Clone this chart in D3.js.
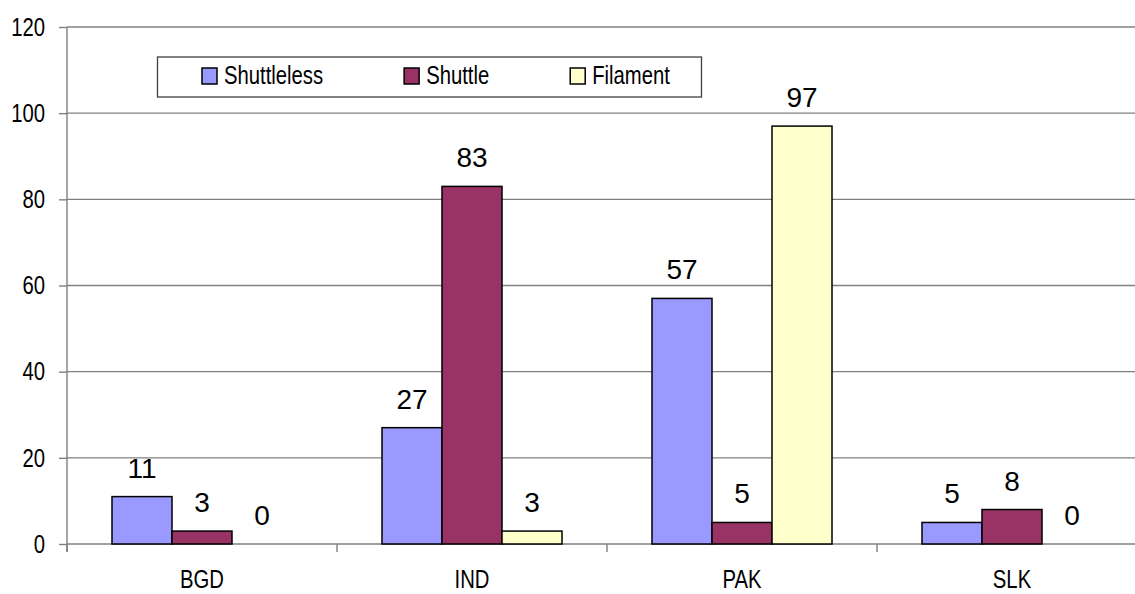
<!DOCTYPE html>
<html>
<head>
<meta charset="utf-8">
<script src="https://cdn.jsdelivr.net/npm/d3@7"></script>
<style>
  body { margin: 0; background: #ffffff; }
  svg { display: block; font-family: Arial, "Liberation Sans", sans-serif; }
</style>
</head>
<body>
<script>
// chart data
const categories = ["BGD", "IND", "PAK", "SLK"];
const seriesNames = ["Shuttleless", "Shuttle", "Filament"];
const shuttleless = [11, 27, 57, 5];
const shuttle = [3, 83, 5, 8];
const filament = [0, 3, 97, 0];
const yTicks = [0, 20, 40, 60, 80, 100, 120];

const colors = { Shuttleless: "#9999ff", Shuttle: "#993366", Filament: "#ffffcc" };
const squeeze = 0.78; // the original text is narrow

// build rows for the join
const rows = [];
categories.forEach((c, i) => {
  rows.push({ cat: c, series: "Shuttleless", value: shuttleless[i] });
  rows.push({ cat: c, series: "Shuttle", value: shuttle[i] });
  rows.push({ cat: c, series: "Filament", value: filament[i] });
});

const W = 1135, H = 594;
const svg = d3.select("body").append("svg")
  .attr("width", W)
  .attr("height", H);

const plotLeft = 67, plotRight = 1147, plotTop = 27, plotBottom = 544;

const x0 = d3.scaleBand()
  .domain(categories)
  .range([plotLeft, plotRight]);

const x1 = d3.scaleBand()
  .domain(seriesNames)
  .range([0, x0.bandwidth()])
  .paddingOuter(0.75);

const y = d3.scaleLinear()
  .domain([0, 120])
  .range([plotBottom, plotTop]);

// gridlines
svg.append("g")
  .selectAll("line")
  .data(yTicks)
  .join("line")
  .attr("x1", plotLeft)
  .attr("x2", plotRight)
  .attr("y1", d => y(d))
  .attr("y2", d => y(d))
  .attr("stroke", "#808080")
  .attr("stroke-width", 1.4);

// y axis
const yAxis = svg.append("g")
  .attr("transform", `translate(${plotLeft},0)`)
  .call(d3.axisLeft(y).tickValues(yTicks).tickSize(8).tickSizeOuter(0));
yAxis.select(".domain").attr("stroke", "#808080").attr("stroke-width", 1.4)
  .attr("d", `M0,${plotTop}V${plotBottom + 8}`);
yAxis.selectAll(".tick line").attr("stroke", "#808080").attr("stroke-width", 1.4);
yAxis.selectAll(".tick text")
  .attr("x", -22 / squeeze)
  .attr("transform", `scale(${squeeze},1)`)
  .attr("font-size", 26)
  .attr("font-family", "Arial, 'Liberation Sans', sans-serif")
  .attr("fill", "#000");

// x axis tick marks at band edges
svg.append("g")
  .selectAll("line")
  .data(categories)
  .join("line")
  .attr("x1", d => x0(d))
  .attr("x2", d => x0(d))
  .attr("y1", plotBottom)
  .attr("y2", plotBottom + 8)
  .attr("stroke", "#808080")
  .attr("stroke-width", 1.4);

// category labels
svg.append("g")
  .selectAll("text")
  .data(categories)
  .join("text")
  .attr("transform", d => `translate(${x0(d) + x0.bandwidth() / 2},588) scale(${squeeze},1)`)
  .attr("text-anchor", "middle")
  .attr("font-size", 26)
  .text(d => d);

// bars
svg.append("g")
  .selectAll("rect")
  .data(rows)
  .join("rect")
  .attr("x", d => x0(d.cat) + x1(d.series))
  .attr("y", d => y(d.value))
  .attr("width", x1.bandwidth())
  .attr("height", d => y(0) - y(d.value))
  .attr("fill", d => colors[d.series])
  .attr("stroke", d => d.value > 0 ? "#000" : "none")
  .attr("stroke-width", 1.5);

// value labels
svg.append("g")
  .selectAll("text")
  .data(rows)
  .join("text")
  .attr("x", d => x0(d.cat) + x1(d.series) + x1.bandwidth() / 2)
  .attr("y", d => y(d.value) - 19)
  .attr("text-anchor", "middle")
  .attr("font-size", 28)
  .text(d => d.value);

// legend
const legend = svg.append("g");
legend.append("rect")
  .attr("x", 157.5)
  .attr("y", 57)
  .attr("width", 544)
  .attr("height", 40)
  .attr("fill", "#fff")
  .attr("stroke", "#404040")
  .attr("stroke-width", 1.3);

let lx = 202;
seriesNames.forEach(s => {
  legend.append("rect")
    .attr("x", lx)
    .attr("y", 68)
    .attr("width", 15)
    .attr("height", 16)
    .attr("fill", colors[s])
    .attr("stroke", "#000")
    .attr("stroke-width", 1.5);
  const t = legend.append("text")
    .attr("transform", `translate(${lx + 22},84) scale(${squeeze},1)`)
    .attr("font-size", 26)
    .text(s);
  const w = t.node().getComputedTextLength() * squeeze;
  lx += 22 + w + 81;
});
</script>
</body>
</html>
